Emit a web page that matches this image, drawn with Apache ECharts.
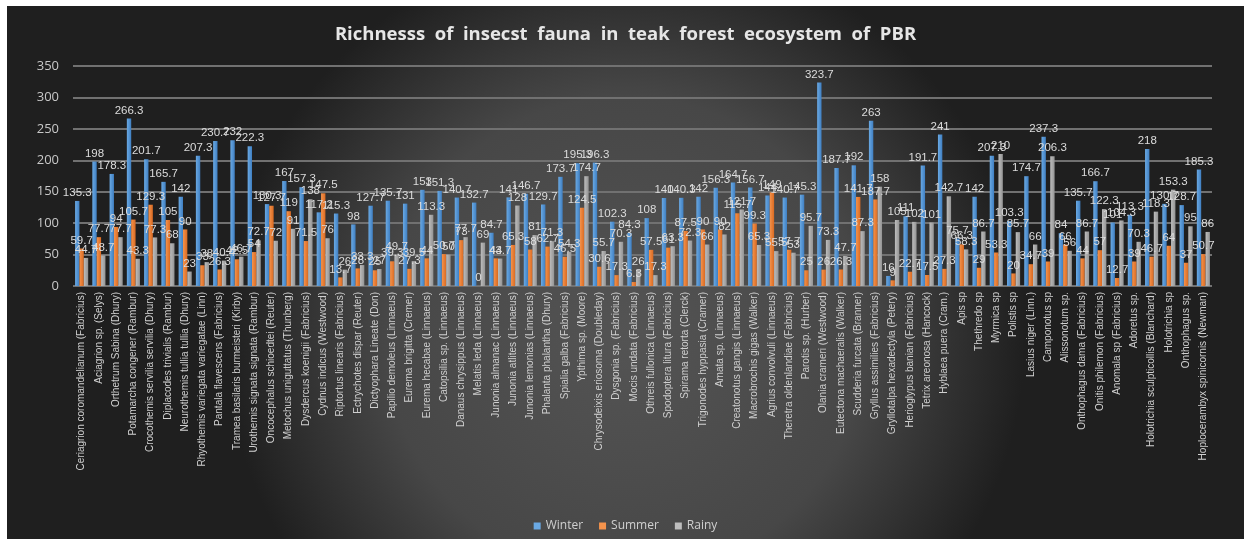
<!DOCTYPE html>
<html>
<head>
<meta charset="utf-8">
<script src="https://cdn.jsdelivr.net/npm/echarts@6/dist/echarts.min.js"></script>
<style>
  html, body { margin: 0; padding: 0; background: #ffffff; }
  #chart { position: absolute; left: 7px; top: 6px; width: 1237px; height: 533px; }
</style>
</head>
<body>
<div id="chart"></div>
<script>
// Species recorded in the teak forest ecosystem
const species = [
  'Ceriagrion coromandelianum (Fabricius)', 'Aciagrion sp. (Selys)', 'Orthetrum Sabina (Dhury)',
  'Potamarcha congener (Rambur)', 'Crocothemis servilia servilia (Dhury)', 'Diplacodes trivialis (Rambur)',
  'Neurothemis tullia tullia (Dhury)', 'Rhyothemis variegata variegatae (Linn)', 'Pantala flavescens (Fabricius)',
  'Tramea basilaris burmeisteri (Kirby)', 'Urothemis signata signata (Rambur)', 'Oncocephalus schioedtei (Reuter)',
  'Metochus uniguttatus (Thunberg)', 'Dysdercus koenigii (Fabricius)', 'Cydnus indicus (Westwood)',
  'Riptortus linearis (Fabricius)', 'Ectrychotes dispar (Reuter)', 'Dictyophara Lineate (Don)',
  'Papilio demoleus (Linnaeus)', 'Eurema brigitta (Cremer)', 'Eurema hecabae (Linnaeus)',
  'Catopsilia sp. (Linnaeus)', 'Danaus chrysippus (Linnaeus)', 'Melatis leda (Linnaeus)',
  'Junonia almanac (Linnaeus)', 'Junonia atlites (Linnaeus)', 'Junonia lemonias (Linnaeus)',
  'Phalanta phalantha (Dhury)', 'Spialia galba (Fabricius)', 'Ypthima sp. (Moore)',
  'Chrysodeixis eriosoma (Doubleday)', 'Dysgonia sp. (Fabricius)', 'Mocis undata (Fabricius)',
  'Othreis fullonica (Linnaeus)', 'Spodoptera litura (Fabricius)', 'Spirama retorta (Clerck)',
  'Trigonodes hyppasia (Cramer)', 'Amata sp. (Linnaeus)', 'Creatonotus gangis (Linnaeus)',
  'Macrobrochis gigas (Walker)', 'Agrius convolvuli (Linnaeus)', 'Theretra oldenlandiae (Fabricius)',
  'Parotis sp. (Hurber)', 'Olania crameri (Westwood)', 'Eutectona machaeralis (Walker)',
  'Scudderia furcata (Branner)', 'Gryllus assimilies (Fabricius)', 'Gryllotalpa hexadectyla (Petery)',
  'Herioglypus banian (Fabricius)', 'Tetrix areonosa (Hancock)', 'Hyblaea puera (Cram.)',
  'Apis sp', 'Thethredo sp', 'Myrmica sp', 'Polistis sp', 'Lasius niger (Linn.)',
  'Camponotus sp', 'Alissonotum sp.', 'Onthophagus dama (Fabricius)', 'Onitis philemon (Fabricius)',
  'Anomala sp (Fabricius)', 'Adoretus sp.', 'Holotrichia sculpticollis (Blanchard)', 'Holotrichia sp',
  'Onthophagus sp.', 'Hoplocerambyx spinicornis (Newman)'
];

const winter = [
  135.3, 198, 178.3, 266.3, 201.7, 165.7, 142, 207.3, 230.7, 232, 222.3, 130.3,
  167, 157.3, 117.2, 115.3, 98, 127.7, 135.7, 131, 153, 151.3, 140.7, 132.7,
  84.7, 141, 146.7, 129.7, 173.7, 195.3, 196.3, 102.3, 84.3, 108, 140, 140.3,
  142, 156.3, 164.7, 156.7, 144, 140.7, 145.3, 323.7, 187.7, 192, 263, 16,
  111, 191.7, 241, 75.7, 142, 207.3, 103.3, 174.7, 237.3, 84, 135.7, 166.7,
  101, 113.3, 218, 130.7, 128.7, 185.3
];

const summer = [
  59.7, 77.7, 94, 105.7, 129.3, 105, 90, 33, 26.3, 42.5, 54, 127.7,
  119, 71.5, 147.5, 13.7, 28, 25, 39.3, 27.3, 44, 50.7, 73, 0,
  44, 65.3, 58, 62.7, 46.5, 124.5, 30.6, 17.3, 6.3, 57.5, 61, 87.5,
  90, 90, 115.7, 99.3, 149, 57.7, 25, 26, 26.3, 141.7, 137.7, 9,
  22.7, 17.5, 27.3, 66.3, 29, 53.3, 20, 34.7, 39, 66, 44, 57,
  12.7, 39, 46.7, 64, 37, 50.7
];

const rainy = [
  44.7, 48.7, 77.7, 43.3, 77.3, 68, 23, 38, 40.4, 46.7, 72.7, 72,
  91, 138, 76, 26, 33.3, 27, 49.7, 39.5, 113.3, 50, 77.7, 69,
  43.7, 128, 81, 71.3, 54.3, 174.7, 55.7, 70.3, 26, 17.3, 63.3, 72.3,
  66, 82, 121.7, 65.3, 55.5, 53, 95.7, 73.3, 47.7, 87.3, 158, 105,
  102, 101, 142.7, 58.3, 86.7, 210, 85.7, 66, 206.3, 56, 86.7, 122.3,
  104.3, 70.3, 118.3, 153.3, 95, 86
];

const yTicks = [0, 50, 100, 150, 200, 250, 300, 350];

const seriesDefs = [
  { name: 'Winter', data: winter, color: ['#6aa9e3', '#3f7fc2'] },
  { name: 'Summer', data: summer, color: ['#f5934c', '#d96a22'] },
  { name: 'Rainy',  data: rainy,  color: ['#bdbdbd', '#949494'] }
];

const chart = echarts.init(document.getElementById('chart'));

chart.setOption({
  backgroundColor: {
    type: 'radial', x: 0.5, y: 0.62, r: 0.75,
    colorStops: [
      { offset: 0, color: '#545454' },
      { offset: 0.6, color: '#474747' },
      { offset: 1, color: '#1f1f1f' }
    ]
  },
  animation: false,
  title: {
    text: 'Richnesss  of  insecst  fauna  in  teak  forest  ecosystem  of  PBR',
    left: 'center',
    top: 14,
    textStyle: {
      color: '#e6e6e6', fontSize: 18.5, fontWeight: 'bold',
      fontFamily: 'Open Sans'
    }
  },
  legend: {
    bottom: 2,
    left: 'center',
    itemWidth: 7, itemHeight: 7,
    itemGap: 16,
    icon: 'rect',
    textStyle: { color: '#cfcfcf', fontSize: 12, fontFamily: 'Open Sans' },
    data: seriesDefs.map(s => ({ name: s.name, itemStyle: { color: s.color[0] } }))
  },
  grid: { left: 66, right: 32, top: 60, bottom: 253, containLabel: false },
  xAxis: {
    type: 'category',
    data: species,
    axisLine: { show: false },
    axisTick: { show: false },
    axisLabel: {
      interval: 0,
      rotate: 90,
      color: '#d0d0d0',
      fontSize: 10,
      fontFamily: 'Liberation Sans',
      margin: 6
    }
  },
  yAxis: {
    type: 'value',
    min: yTicks[0],
    max: yTicks[yTicks.length - 1],
    interval: 50,
    axisLine: { show: false },
    axisTick: { show: false },
    axisLabel: { color: '#c8c8c8', fontSize: 13, fontFamily: 'Open Sans', margin: 14 },
    splitLine: { lineStyle: { color: '#717171', width: 2 } }
  },
  series: seriesDefs.map(s => ({
    name: s.name,
    type: 'bar',
    data: s.data,
    barGap: '0%',
    barCategoryGap: '24%',
    itemStyle: {
      color: {
        type: 'linear', x: 0, y: 0, x2: 1, y2: 0,
        colorStops: [
          { offset: 0, color: s.color[0] },
          { offset: 1, color: s.color[1] }
        ]
      }
    },
    label: {
      show: true,
      position: 'top',
      distance: 2,
      color: '#dcdcdc',
      fontSize: 11.5,
      fontFamily: 'Liberation Sans'
    }
  }))
});
</script>
</body>
</html>
